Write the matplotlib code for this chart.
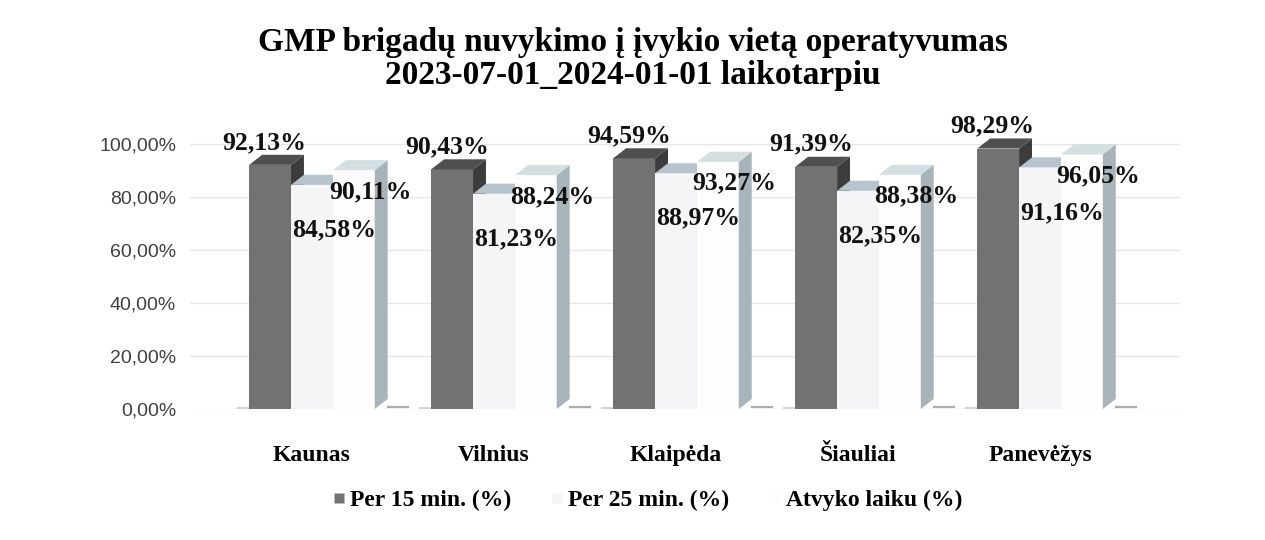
import matplotlib
matplotlib.use("Agg")
import matplotlib.pyplot as plt
import numpy as np
from matplotlib.patches import Polygon
from matplotlib.lines import Line2D

# duomenys
cities = ["Kaunas", "Vilnius", "Klaipėda", "Šiauliai", "Panevėžys"]
per15 = [92.13, 90.43, 94.59, 91.39, 98.29]
per25 = [84.58, 81.23, 88.97, 82.35, 91.16]
laiku = [90.11, 88.24, 93.27, 88.38, 96.05]
series_names = ["Per 15 min. (%)", "Per 25 min. (%)", "Atvyko laiku (%)"]
y_ticks = [0, 20, 40, 60, 80, 100]

serif = "Liberation Serif"
sans = "Liberation Sans"

# spalvos: priekis, viršus, šonas
styles = [
    ("#727272", "#4f4f4f", "#3c3c3c"),
    ("#f3f5f7", "#b7c4cd", "#cfd6db"),
    ("#fdfdfd", "#d3dfe0", "#a8b4b9"),
]

fig = plt.figure(figsize=(12.65, 5.4), dpi=100)
W, H = 1265, 540
ax = fig.add_axes([190 / W, (H - 409) / H, 990 / W, 291.5 / H])
ax.set_xlim(-0.670, 4.769)
ax.set_ylim(0, 110)

w = 0.23
dx = 0.071
dy = 3.8

def bar3d(x0, h, col):
    front, top, side = col
    ax.add_patch(Polygon([(x0, 0), (x0 + w, 0), (x0 + w, h), (x0, h)],
                         closed=True, fc=front, ec="none", zorder=3))
    ax.add_patch(Polygon([(x0 + w, 0), (x0 + w + dx, dy), (x0 + w + dx, h + dy), (x0 + w, h)],
                         closed=True, fc=side, ec="none", zorder=3))
    ax.add_patch(Polygon([(x0, h), (x0 + w, h), (x0 + w + dx, h + dy), (x0 + dx, h + dy)],
                         closed=True, fc=top, ec="none", zorder=3))

data = [per15, per25, laiku]
x = np.arange(len(cities))
for i in range(len(cities)):
    for s in range(3):
        x0 = x[i] + (s - 1.5) * w
        bar3d(x0, data[s][i], styles[s])
    # šešėlis ant grindų
    ax.plot([x[i] - 1.5 * w - 0.06, x[i] - 1.5 * w], [0.4, 0.4],
            color="#9a9a9a", lw=1.5, alpha=0.4, zorder=2)
    ax.plot([x[i] + 1.5 * w + dx, x[i] + 1.5 * w + 0.18], [0.6, 0.6],
            color="#6a6a6a", lw=1.6, alpha=0.55, zorder=2)

# duomenų žymės
lab_font = dict(family=serif, fontweight="bold", fontsize=18.5, color="#111111", zorder=5)
for i in range(len(cities)):
    ax.text(x[i] - w - 0.03, per15[i] + 8.5, f"{per15[i]:.2f}%".replace(".", ","),
            ha="center", va="center", **lab_font)
    ax.text(x[i] + 0.12, per25[i] - 17, f"{per25[i]:.2f}%".replace(".", ","),
            ha="center", va="center", **lab_font)
    ax.text(x[i] + w + 0.09, laiku[i] - 8, f"{laiku[i]:.2f}%".replace(".", ","),
            ha="center", va="center", **lab_font)

# ašys
ax.set_yticks(y_ticks)
ax.set_yticklabels([f"{v:.2f}%".replace(".", ",") for v in y_ticks],
                   fontsize=14, family=sans, color="#404040")
ax.yaxis.grid(True, color="#e6e6e6", lw=1)
ax.set_axisbelow(True)
ax.tick_params(axis="y", length=0, pad=10)
ax.set_xticks(x)
ax.set_xticklabels(cities, family=serif, fontweight="bold", fontsize=17)
ax.tick_params(axis="x", length=0, pad=26)
for sp in ax.spines.values():
    sp.set_visible(False)

fig.suptitle("GMP brigadų nuvykimo į įvykio vietą operatyvumas\n2023-07-01_2024-01-01 laikotarpiu",
             y=0.95, family=serif, fontweight="bold", fontsize=24, linespacing=1.1)

handles = [Line2D([], [], ls="none", marker="s", ms=7, mfc=styles[k][0], mec="none")
           for k in range(3)]
fig.legend(handles, series_names, loc="center", bbox_to_anchor=(0.511, 0.074), ncol=3,
           frameon=False, prop=dict(family=serif, weight="bold", size=17),
           handletextpad=0.1, columnspacing=1.6, handlelength=0.7)

fig.savefig("out.png", dpi=100, facecolor="white")
